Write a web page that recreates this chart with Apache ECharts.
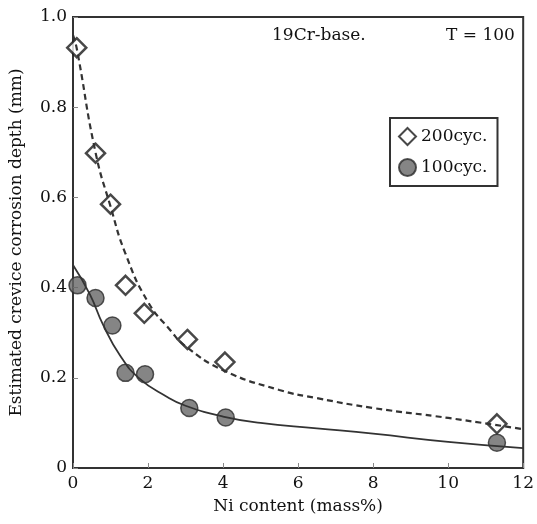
<!DOCTYPE html>
<html>
<head>
<meta charset="utf-8">
<script src="https://cdn.jsdelivr.net/npm/echarts@6/dist/echarts.min.js"></script>
<style>
  html, body { margin: 0; padding: 0; background: #fff; }
  #chart { width: 537px; height: 524px; }
</style>
</head>
<body>
<div id="chart"></div>
<script>
// measured points
var ni200 = [0.1, 0.6, 1.0, 1.4, 1.9, 3.05, 4.05, 11.3];
var depth200 = [0.932, 0.698, 0.585, 0.405, 0.343, 0.285, 0.235, 0.098];
var ni100 = [0.12, 0.6, 1.05, 1.4, 1.92, 3.1, 4.07, 11.3];
var depth100 = [0.405, 0.377, 0.316, 0.211, 0.208, 0.133, 0.112, 0.056];

// fitted curves
var fitX200 = [0, 0.1, 0.6, 1.0, 1.4, 2, 2.6, 3, 4, 5.5, 6.5, 8, 10, 12];
var fitY200 = [0.96, 0.93, 0.70, 0.58, 0.475, 0.368, 0.305, 0.27, 0.217, 0.173, 0.155, 0.133, 0.111, 0.086];
var fitX100 = [0, 0.45, 0.8, 1.25, 1.75, 2.5, 3, 4, 5, 6.5, 8, 10, 12];
var fitY100 = [0.45, 0.385, 0.318, 0.25, 0.2, 0.158, 0.138, 0.114, 0.1, 0.088, 0.076, 0.058, 0.044];

var yTicks = [0, 0.2, 0.4, 0.6, 0.8, 1.0];

var FONT = 'DejaVu Serif';
var INK = '#333';
var TXT = '#111';

function pairs(xs, ys) {
    var out = [];
    for (var i = 0; i < xs.length; i++) out.push([xs[i], ys[i]]);
    return out;
}

var myChart = echarts.init(document.getElementById('chart'));

var option = {
    animation: false,
    backgroundColor: '#fff',
    textStyle: { fontFamily: FONT, color: TXT },
    grid: {
        left: 73, right: 10, top: 17, bottom: 56,
        show: true, borderColor: INK, borderWidth: 2
    },
    legend: {
        orient: 'vertical',
        left: 390, top: 118, width: 127, height: 73,
        padding: [9, 10, 9, 8],
        itemGap: 12,
        itemWidth: 17, itemHeight: 17,
        borderColor: INK, borderWidth: 2,
        textStyle: { fontFamily: FONT, fontSize: 17, color: TXT },
        data: ['200cyc.', '100cyc.']
    },
    xAxis: {
        type: 'value', min: 0, max: 12, interval: 2,
        name: 'Ni content (mass%)', nameLocation: 'middle', nameGap: 30,
        nameTextStyle: { fontFamily: FONT, fontSize: 17, color: TXT },
        axisLine: { show: true, lineStyle: { color: INK, width: 2 } },
        axisTick: { show: true, inside: true, length: 5, lineStyle: { color: '#888' } },
        axisLabel: { fontFamily: FONT, fontSize: 17, color: TXT, margin: 7 },
        splitLine: { show: false }
    },
    yAxis: {
        type: 'value', min: 0, max: 1.0, interval: 0.2,
        name: 'Estimated crevice corrosion depth (mm)', nameLocation: 'middle', nameGap: 48,
        nameTextStyle: { fontFamily: FONT, fontSize: 17, color: TXT },
        axisLine: { show: true, lineStyle: { color: INK, width: 2 } },
        axisTick: { show: true, inside: true, length: 5, lineStyle: { color: '#888' } },
        axisLabel: {
            fontFamily: FONT, fontSize: 17, color: TXT, margin: 6,
            formatter: function (v) { return v === 0 ? '0' : v.toFixed(1); }
        },
        splitLine: { show: false }
    },
    graphic: [
        { type: 'text', left: 272, top: 27, style: { text: '19Cr-base.', font: '17px "DejaVu Serif"', fill: TXT } },
        { type: 'text', left: 446, top: 27, style: { text: 'T = 100', font: '17px "DejaVu Serif"', fill: TXT } }
    ],
    series: [
        {
            type: 'line', data: pairs(fitX200, fitY200), smooth: 0.5,
            showSymbol: false, silent: true,
            lineStyle: { color: INK, width: 2.2, type: [6, 4] }
        },
        {
            type: 'line', data: pairs(fitX100, fitY100), smooth: 0.5,
            showSymbol: false, silent: true,
            lineStyle: { color: INK, width: 1.8 }
        },
        {
            name: '200cyc.', type: 'scatter', data: pairs(ni200, depth200),
            symbol: 'diamond', symbolSize: 19,
            itemStyle: { color: '#fff', borderColor: '#1a1a1a', borderWidth: 2.5 }
        },
        {
            name: '100cyc.', type: 'scatter', data: pairs(ni100, depth100),
            symbol: 'circle', symbolSize: 17,
            itemStyle: { color: '#666', borderColor: '#2a2a2a', borderWidth: 1.5 }
        }
    ]
};

myChart.setOption(option);
</script>
</body>
</html>
